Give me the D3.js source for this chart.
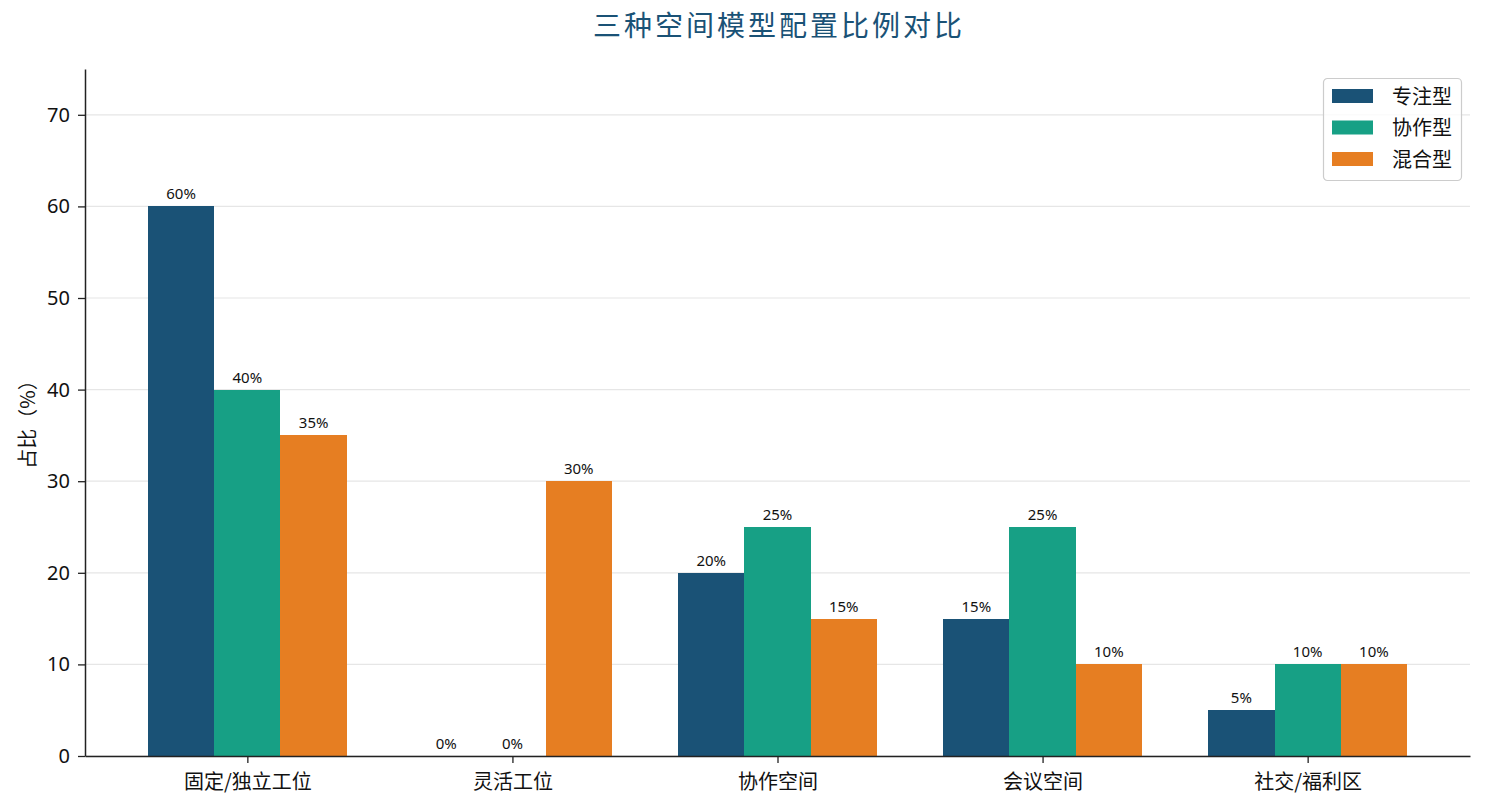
<!DOCTYPE html>
<html>
<head>
<meta charset="utf-8">
<script src="https://cdn.jsdelivr.net/npm/d3@7"></script>
<style>
  body { margin: 0; background: #fff; }
  svg { font-family: "Noto Sans CJK SC", "Noto Sans", sans-serif; text-spacing-trim: space-all; }
</style>
</head>
<body>
<svg id="chart" width="1486" height="807"></svg>
<script>
const categories = ['固定/独立工位', '灵活工位', '协作空间', '会议空间', '社交/福利区'];
const seriesNames = ['专注型', '协作型', '混合型'];
const focusValues = [60, 0, 20, 15, 5];
const collabValues = [40, 0, 25, 25, 10];
const hybridValues = [35, 30, 15, 10, 10];
const yTicks = [0, 10, 20, 30, 40, 50, 60, 70];
const colors = ['#1a5276', '#17a085', '#e67e22'];

const series = [focusValues, collabValues, hybridValues];
const width = 1486, height = 807;
const margin = { top: 69, right: 16, bottom: 51, left: 85 };
const innerW = width - margin.left - margin.right;
const innerH = height - margin.top - margin.bottom;
const barW = 0.25;

const svg = d3.select('#chart');
const g = svg.append('g').attr('transform', `translate(${margin.left},${margin.top})`);

// matplotlib 风格的 x 轴：类别索引 + 5% 边距
const x = d3.scaleLinear()
  .domain([-0.6125, categories.length - 1 + 0.6125])
  .range([0, innerW]);
const y = d3.scaleLinear().domain([0, 75]).range([innerH, 0]);

// 网格线
g.append('g')
  .selectAll('line')
  .data(yTicks)
  .join('line')
  .attr('x1', 0).attr('x2', innerW)
  .attr('y1', d => y(d)).attr('y2', d => y(d))
  .attr('stroke', '#e6e6e6').attr('stroke-width', 1.2);

// 柱子 + 数值标签
series.forEach((vals, si) => {
  const off = (si - 1) * barW;
  g.append('g')
    .selectAll('rect')
    .data(vals)
    .join('rect')
    .attr('x', (d, i) => x(i + off - barW / 2))
    .attr('width', x(barW) - x(0))
    .attr('y', d => y(d))
    .attr('height', d => y(0) - y(d))
    .attr('fill', colors[si])
    .attr('shape-rendering', 'crispEdges');

  g.append('g')
    .selectAll('text')
    .data(vals)
    .join('text')
    .attr('x', (d, i) => x(i + off))
    .attr('y', d => y(d) - 7)
    .attr('text-anchor', 'middle')
    .attr('font-family', '"Noto Sans", sans-serif')
    .attr('font-size', 15)
    .attr('fill', '#111')
    .text(d => d + '%');
});

// 坐标轴
const axisX = d3.axisBottom(x)
  .tickValues(d3.range(categories.length))
  .tickFormat(i => categories[i])
  .tickSizeInner(7).tickSizeOuter(0);
const gx = g.append('g').attr('transform', `translate(0,${innerH})`).call(axisX);
gx.selectAll('.tick text')
  .attr('y', 33).attr('dy', null)
  .attr('font-size', 20).attr('fill', '#111');

const axisY = d3.axisLeft(y).tickValues(yTicks)
  .tickSizeInner(7).tickSizeOuter(0).tickPadding(8);
const gy = g.append('g').call(axisY);
gy.selectAll('.tick text')
  .attr('font-family', '"Noto Sans", sans-serif')
  .attr('font-size', 20).attr('fill', '#111');

[gx, gy].forEach(a => {
  a.attr('font-family', null);
  a.select('.domain').attr('stroke', '#222').attr('stroke-width', 1.5);
  a.selectAll('.tick line').attr('stroke', '#222').attr('stroke-width', 1.3);
});

// y 轴标题
svg.append('text')
  .attr('transform', `translate(35,${margin.top + innerH / 2 + 7}) rotate(-90)`)
  .attr('text-anchor', 'middle')
  .attr('font-size', 20)
  .attr('fill', '#111')
  .text('占比（%）');

// 标题
svg.append('text')
  .attr('x', margin.left + innerW / 2 + 1.5)
  .attr('y', 36)
  .attr('text-anchor', 'middle')
  .attr('font-size', 28)
  .attr('letter-spacing', 3)
  .attr('fill', '#1a5276')
  .text('三种空间模型配置比例对比');

// 图例
const lg = svg.append('g').attr('transform', 'translate(1323,78)');
lg.append('rect')
  .attr('x', 0.5).attr('y', 0.5)
  .attr('width', 138).attr('height', 102)
  .attr('rx', 4)
  .attr('fill', '#fff').attr('fill-opacity', 0.8)
  .attr('stroke', '#cccccc').attr('stroke-width', 1.2);
seriesNames.forEach((name, i) => {
  const row = lg.append('g').attr('transform', `translate(9,${11 + i * 31.5})`);
  row.append('rect').attr('width', 41).attr('height', 14).attr('fill', colors[i]);
  row.append('text')
    .attr('x', 60).attr('y', 14.5)
    .attr('font-size', 20)
    .attr('fill', '#111')
    .text(name);
});
</script>
</body>
</html>
